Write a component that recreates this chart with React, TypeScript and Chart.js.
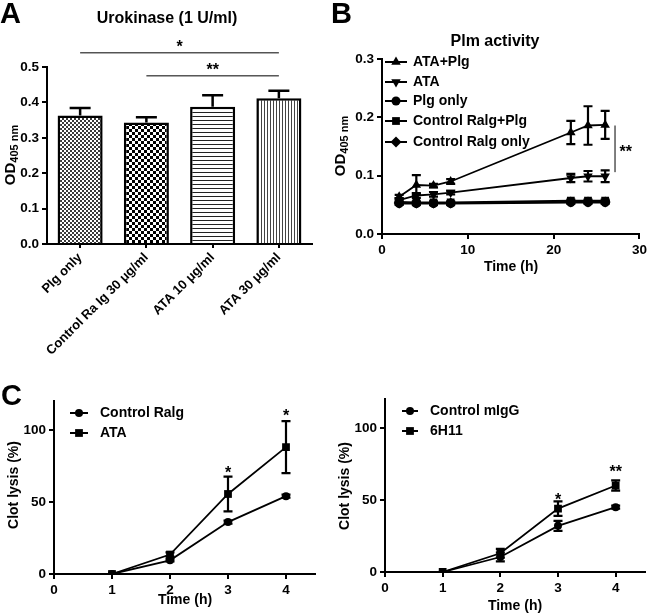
import React, { useEffect, useRef } from 'react';
import { Chart, registerables } from 'chart.js';

Chart.register(...registerables);

const FONT = "'Liberation Sans', Arial, Helvetica, sans-serif";
Chart.defaults.font.family = FONT;
Chart.defaults.color = '#000';

// ---------- Panel A : Urokinase (1 U/ml) ----------
const barLabels = ['Plg only', 'Control Ra Ig 30 μg/ml', 'ATA 10 μg/ml', 'ATA 30 μg/ml'];
const barMeans = [0.363, 0.343, 0.388, 0.412];
const barSEM = [0.021, 0.015, 0.032, 0.021];
const barPatterns = ['fine', 'checker', 'hlines', 'vlines'];
const sigA = [
  { from: 0, to: 3, value: 0.54, label: '*', labelValue: 0.568 },
  { from: 1, to: 3, value: 0.475, label: '**', labelValue: 0.505 },
];

// ---------- Panel B : Plm activity ----------
const plmTime = [2, 4, 6, 8, 22, 24, 26];
const ataPlg = [0.064, 0.084, 0.083, 0.090, 0.174, 0.186, 0.187];
const ataPlgErr = [0.003, 0.017, 0.003, 0.004, 0.020, 0.033, 0.024];
const ataOnly = [0.058, 0.066, 0.068, 0.071, 0.096, 0.099, 0.099];
const ataOnlyErr = [0.003, 0.004, 0.004, 0.003, 0.007, 0.009, 0.010];
const plgOnly = [0.052, 0.052, 0.052, 0.052, 0.054, 0.054, 0.054];
const ctrlPlg = [0.055, 0.054, 0.054, 0.054, 0.057, 0.057, 0.057];
const ctrlOnly = [0.053, 0.053, 0.053, 0.053, 0.055, 0.055, 0.055];
const smallErr = [0.002, 0.002, 0.002, 0.002, 0.002, 0.002, 0.002];
const sigB = { x: 27.15, from: 0.106, to: 0.186, labelX: 28.4, labelValue: 0.148, label: '**' };

// ---------- Panel C : Clot lysis ----------
const lysisTime = [1, 2, 3, 4];
const lysisXTicks = [0, 1, 2, 3, 4];
const lysisYTicks = [0, 50, 100];
const ctrlRalg = [0, 9.5, 36, 54];
const ctrlRalgErr = [0, 0.8, 1, 1];
const ataLysis = [0, 13.5, 55.5, 88];
const ataLysisErr = [0, 1.5, 12, 18];
const ctrlMigG = [0, 10.4, 32, 45];
const ctrlMigGErr = [0, 3, 3.5, 1];
const mab6H11 = [0, 13, 44, 60];
const mab6H11Err = [0, 3, 5, 3.5];
const sigCLeft = [{ x: 3, y: 73, label: '*' }, { x: 4, y: 112.7, label: '*' }];
const sigCRight = [{ x: 3, y: 53, label: '*' }, { x: 4, y: 72, label: '**' }];

// ---------- helpers ----------
function makePattern(kind: string): CanvasPattern | string {
  const c = document.createElement('canvas');
  const g = c.getContext('2d');
  if (!g) return '#fff';
  if (kind === 'fine') {
    c.width = 4; c.height = 4;
    g.fillStyle = '#fff'; g.fillRect(0, 0, 4, 4);
    g.fillStyle = '#3a3a3a'; g.fillRect(0, 0, 2, 2); g.fillRect(2, 2, 2, 2);
  } else if (kind === 'checker') {
    c.width = 6; c.height = 6;
    g.fillStyle = '#fff'; g.fillRect(0, 0, 6, 6);
    g.fillStyle = '#000'; g.fillRect(0, 0, 3, 3); g.fillRect(3, 3, 3, 3);
  } else if (kind === 'hlines') {
    c.width = 4; c.height = 4;
    g.fillStyle = '#fff'; g.fillRect(0, 0, 4, 4);
    g.fillStyle = '#222'; g.fillRect(0, 0, 4, 1);
  } else {
    c.width = 3; c.height = 4;
    g.fillStyle = '#fff'; g.fillRect(0, 0, 3, 4);
    g.fillStyle = '#444'; g.fillRect(0, 0, 1, 4);
  }
  return g.createPattern(c, 'repeat') || '#fff';
}

function drawMarker(ctx: CanvasRenderingContext2D, style: string, x: number, y: number, r: number, rot = 0) {
  ctx.beginPath();
  if (style === 'circle') {
    ctx.arc(x, y, r, 0, Math.PI * 2);
  } else if (style === 'rect') {
    const s = r * Math.SQRT1_2;
    ctx.rect(x - s, y - s, 2 * s, 2 * s);
  } else if (style === 'rectRot') {
    ctx.moveTo(x, y - r); ctx.lineTo(x + r, y); ctx.lineTo(x, y + r); ctx.lineTo(x - r, y); ctx.closePath();
  } else if (style === 'triangle') {
    let a = (rot * Math.PI) / 180;
    ctx.moveTo(x + Math.sin(a) * r, y - Math.cos(a) * r);
    a += (2 * Math.PI) / 3;
    ctx.lineTo(x + Math.sin(a) * r, y - Math.cos(a) * r);
    a += (2 * Math.PI) / 3;
    ctx.lineTo(x + Math.sin(a) * r, y - Math.cos(a) * r);
    ctx.closePath();
  }
  ctx.fillStyle = '#000';
  ctx.fill();
}

function text(ctx: CanvasRenderingContext2D, s: string, x: number, y: number, size: number, align: CanvasTextAlign = 'center', baseline: CanvasTextBaseline = 'middle') {
  ctx.save();
  ctx.font = `bold ${size}px ${FONT}`;
  ctx.fillStyle = '#000';
  ctx.textAlign = align;
  ctx.textBaseline = baseline;
  ctx.fillText(s, x, y);
  ctx.restore();
}

function rotText(ctx: CanvasRenderingContext2D, s: string, x: number, y: number, size: number) {
  ctx.save();
  ctx.translate(x, y);
  ctx.rotate(-Math.PI / 2);
  text(ctx, s, 0, 0, size);
  ctx.restore();
}

function odLabel(ctx: CanvasRenderingContext2D, x: number, y: number) {
  ctx.save();
  ctx.translate(x, y);
  ctx.rotate(-Math.PI / 2);
  ctx.fillStyle = '#000';
  ctx.font = `bold 15px ${FONT}`;
  const w1 = ctx.measureText('OD').width;
  ctx.font = `bold 11px ${FONT}`;
  const w2 = ctx.measureText('405 nm').width;
  const x0 = -(w1 + w2) / 2;
  ctx.textAlign = 'left';
  ctx.textBaseline = 'middle';
  ctx.font = `bold 15px ${FONT}`;
  ctx.fillText('OD', x0, 0);
  ctx.font = `bold 11px ${FONT}`;
  ctx.fillText('405 nm', x0 + w1, 4);
  ctx.restore();
}

function star(ctx: CanvasRenderingContext2D, s: string, x: number, cy: number, size = 16) {
  text(ctx, s, x, cy + size * 0.58, size, 'center', 'alphabetic');
}

const errorBarPlugin = {
  id: 'errorBars',
  afterDatasetsDraw(chart: any) {
    const ctx = chart.ctx as CanvasRenderingContext2D;
    chart.data.datasets.forEach((ds: any, i: number) => {
      const errs: number[] | undefined = ds.errors;
      if (!errs) return;
      const meta = chart.getDatasetMeta(i);
      const ys = chart.scales[meta.yAxisID];
      ctx.save();
      ctx.strokeStyle = '#000';
      ctx.lineWidth = ds.errWidth || 2;
      const cap = ds.capWidth || 8;
      meta.data.forEach((el: any, j: number) => {
        const d = ds.data[j];
        const v = typeof d === 'number' ? d : d.y;
        const e = errs[j];
        if (!e) return;
        const x = el.x;
        const yTop = ys.getPixelForValue(v + e);
        const yBot = ys.getPixelForValue(ds.upperOnly ? v : v - e);
        ctx.beginPath();
        ctx.moveTo(x, yTop); ctx.lineTo(x, yBot);
        ctx.moveTo(x - cap / 2, yTop); ctx.lineTo(x + cap / 2, yTop);
        if (!ds.upperOnly) { ctx.moveTo(x - cap / 2, yBot); ctx.lineTo(x + cap / 2, yBot); }
        ctx.stroke();
      });
      ctx.restore();
    });
  },
};

function legendPlugin(x0: number, x1: number, tx: number, ys: number[]) {
  return {
    id: 'insideLegend',
    afterDraw(chart: any) {
      const ctx = chart.ctx as CanvasRenderingContext2D;
      chart.data.datasets.forEach((ds: any, i: number) => {
        const y = ys[i];
        if (y === undefined) return;
        ctx.save();
        ctx.strokeStyle = '#000';
        ctx.lineWidth = 2;
        ctx.beginPath(); ctx.moveTo(x0, y); ctx.lineTo(x1, y); ctx.stroke();
        drawMarker(ctx, ds.pointStyle, (x0 + x1) / 2, y, ds.pointRadius, ds.pointRotation || 0);
        ctx.restore();
        text(ctx, ds.label, tx, y, 14, 'left', 'middle');
      });
    },
  };
}

const tickFont = { family: FONT, size: 13.5, weight: 'bold' as const };

function axisCommon(extra: any) {
  return {
    grid: { display: true, drawOnChartArea: false, drawTicks: true, tickLength: 5, color: '#000', lineWidth: 2 },
    border: { display: true, color: '#000', width: 2 },
    ...extra,
    ticks: { color: '#000', font: tickFont, padding: 3, ...(extra.ticks || {}) },
  };
}

function lineDs(label: string, xs: number[], ys: number[], errs: number[] | null, style: string, r: number, rot = 0) {
  return {
    label,
    data: xs.map((x, i) => ({ x, y: ys[i] })),
    borderColor: '#000',
    backgroundColor: '#000',
    borderWidth: 1.8,
    pointStyle: style,
    pointRadius: r,
    pointRotation: rot,
    pointBackgroundColor: '#000',
    pointBorderColor: '#000',
    pointBorderWidth: 0,
    errors: errs || undefined,
    capWidth: 9,
    errWidth: 2.2,
  };
}

// ---------- chart configs ----------
function configA(): any {
  return {
    type: 'bar',
    data: {
      labels: barLabels,
      datasets: [{
        data: barMeans,
        backgroundColor: barPatterns.map(makePattern),
        borderColor: '#000',
        borderWidth: 2.5,
        barPercentage: 0.68,
        categoryPercentage: 1,
        errors: barSEM,
        upperOnly: true,
        capWidth: 21,
        errWidth: 2.5,
      }],
    },
    options: {
      responsive: false, animation: false, devicePixelRatio: 1,
      layout: { padding: { left: 0, right: 18, top: 67, bottom: 0 } },
      plugins: { legend: { display: false }, tooltip: { enabled: false } },
      scales: {
        x: axisCommon({
          grid: { display: true, drawOnChartArea: false, drawTicks: true, tickLength: 4, color: '#000', lineWidth: 2, offset: false },
          ticks: { minRotation: 45, maxRotation: 45, autoSkip: false, padding: 2, font: { family: FONT, size: 13, weight: 'bold' } },
          afterFit: (s: any) => { s.height = 116; },
        }),
        y: axisCommon({
          min: 0, max: 0.5,
          ticks: { stepSize: 0.1, callback: (v: number) => v.toFixed(1) },
          afterFit: (s: any) => { s.width = 47; },
        }),
      },
    },
    plugins: [errorBarPlugin, {
      id: 'extrasA',
      afterDraw(chart: any) {
        const ctx = chart.ctx as CanvasRenderingContext2D;
        const xs = chart.scales.x, ys = chart.scales.y;
        text(ctx, 'A', 0, 23, 29, 'left', 'alphabetic');
        text(ctx, 'Urokinase (1 U/ml)', 167, 23, 16, 'center', 'alphabetic');
        odLabel(ctx, 11, 155);
        sigA.forEach((s) => {
          const x0 = xs.getPixelForValue(s.from), x1 = xs.getPixelForValue(s.to);
          const y = ys.getPixelForValue(s.value);
          ctx.save(); ctx.strokeStyle = '#000'; ctx.lineWidth = 1;
          ctx.beginPath(); ctx.moveTo(x0, y); ctx.lineTo(x1, y); ctx.stroke(); ctx.restore();
          star(ctx, s.label, (x0 + x1) / 2, ys.getPixelForValue(s.labelValue));
        });
      },
    }],
  };
}

function configB(): any {
  return {
    type: 'line',
    data: {
      datasets: [
        lineDs('ATA+Plg', plmTime, ataPlg, ataPlgErr, 'triangle', 5.5),
        lineDs('ATA', plmTime, ataOnly, ataOnlyErr, 'triangle', 5.5, 180),
        lineDs('Plg only', plmTime, plgOnly, smallErr, 'circle', 4.5),
        lineDs('Control Ralg+Plg', plmTime, ctrlPlg, smallErr, 'rect', 5.5),
        lineDs('Control Ralg only', plmTime, ctrlOnly, smallErr, 'rectRot', 5.5),
      ],
    },
    options: {
      responsive: false, animation: false, devicePixelRatio: 1,
      layout: { padding: { left: 0, right: 8, top: 59, bottom: 0 } },
      plugins: { legend: { display: false }, tooltip: { enabled: false } },
      scales: {
        x: axisCommon({
          type: 'linear', min: 0, max: 30,
          ticks: { stepSize: 10 },
          afterFit: (s: any) => { s.height = 66; },
        }),
        y: axisCommon({
          min: 0, max: 0.3,
          ticks: { stepSize: 0.1, callback: (v: number) => v.toFixed(1) },
          afterFit: (s: any) => { s.width = 52; },
        }),
      },
    },
    plugins: [errorBarPlugin, legendPlugin(55, 77, 83, [62, 82, 101, 121, 142]), {
      id: 'extrasB',
      afterDraw(chart: any) {
        const ctx = chart.ctx as CanvasRenderingContext2D;
        const xs = chart.scales.x, ys = chart.scales.y;
        text(ctx, 'B', 1, 23, 29, 'left', 'alphabetic');
        text(ctx, 'Plm activity', 165, 46, 16, 'center', 'alphabetic');
        odLabel(ctx, 11, 146);
        text(ctx, 'Time (h)', 181, 267, 14);
        const x = xs.getPixelForValue(sigB.x);
        ctx.save(); ctx.strokeStyle = '#000'; ctx.lineWidth = 1;
        ctx.beginPath(); ctx.moveTo(x, ys.getPixelForValue(sigB.from)); ctx.lineTo(x, ys.getPixelForValue(sigB.to)); ctx.stroke();
        ctx.restore();
        star(ctx, sigB.label, xs.getPixelForValue(sigB.labelX), ys.getPixelForValue(sigB.labelValue));
      },
    }],
  };
}

function configC(labels: string[], a: number[], aErr: number[], b: number[], bErr: number[], sig: { x: number; y: number; label: string }[], letter: boolean, layout: { yw: number; right: number; top: number; xh: number; legX0: number; legX1: number; legT: number; legY: number[]; ylx: number; yly: number; xtx: number; xty: number }): any {
  return {
    type: 'line',
    data: {
      datasets: [
        lineDs(labels[0], lysisTime, a, aErr, 'circle', 4),
        lineDs(labels[1], lysisTime, b, bErr, 'rect', 5.5),
      ],
    },
    options: {
      responsive: false, animation: false, devicePixelRatio: 1,
      layout: { padding: { left: 0, right: layout.right, top: layout.top, bottom: 0 } },
      plugins: { legend: { display: false }, tooltip: { enabled: false } },
      scales: {
        x: axisCommon({
          type: 'linear', min: 0, max: 4.5,
          afterBuildTicks: (s: any) => { s.ticks = lysisXTicks.map((v) => ({ value: v })); },
          afterFit: (s: any) => { s.height = layout.xh; },
        }),
        y: axisCommon({
          min: 0, max: 120,
          afterBuildTicks: (s: any) => { s.ticks = lysisYTicks.map((v) => ({ value: v })); },
          afterFit: (s: any) => { s.width = layout.yw; },
        }),
      },
    },
    plugins: [errorBarPlugin, legendPlugin(layout.legX0, layout.legX1, layout.legT, layout.legY), {
      id: 'extrasC',
      afterDraw(chart: any) {
        const ctx = chart.ctx as CanvasRenderingContext2D;
        const xs = chart.scales.x, ys = chart.scales.y;
        if (letter) text(ctx, 'C', 1, 45, 29, 'left', 'alphabetic');
        rotText(ctx, 'Clot lysis (%)', layout.ylx, layout.yly, 14);
        text(ctx, 'Time (h)', layout.xtx, layout.xty, 14);
        sig.forEach((s) => star(ctx, s.label, xs.getPixelForValue(s.x), ys.getPixelForValue(s.y)));
      },
    }],
  };
}

function ChartCanvas({ left, top, width, height, make }: { left: number; top: number; width: number; height: number; make: () => any }) {
  const ref = useRef<HTMLCanvasElement | null>(null);
  useEffect(() => {
    if (!ref.current) return;
    const chart = new Chart(ref.current, make());
    return () => chart.destroy();
  }, []);
  return (
    <canvas
      ref={ref}
      width={width}
      height={height}
      style={{ position: 'absolute', left, top, width, height, display: 'block' }}
    />
  );
}

export default function App() {
  return (
    <div style={{ position: 'fixed', left: 0, top: 0, width: 650, height: 616, background: '#fff', overflow: 'hidden' }}>
      <ChartCanvas left={0} top={0} width={330} height={360} make={configA} />
      <ChartCanvas left={330} top={0} width={320} height={300} make={configB} />
      <ChartCanvas
        left={0} top={360} width={330} height={256}
        make={() => configC(['Control Ralg', 'ATA'], ctrlRalg, ctrlRalgErr, ataLysis, ataLysisErr, sigCLeft, true,
          { yw: 54, right: 15, top: 41, xh: 42, legX0: 70, legX1: 88, legT: 100, legY: [53, 73], ylx: 14, yly: 125, xtx: 185, xty: 240 })}
      />
      <ChartCanvas
        left={330} top={360} width={320} height={256}
        make={() => configC(['Control mIgG', '6H11'], ctrlMigG, ctrlMigGErr, mab6H11, mab6H11Err, sigCRight, false,
          { yw: 55, right: 5, top: 39, xh: 44, legX0: 72, legX1: 88, legT: 100, legY: [51, 71], ylx: 15, yly: 126, xtx: 185, xty: 246 })}
      />
    </div>
  );
}
